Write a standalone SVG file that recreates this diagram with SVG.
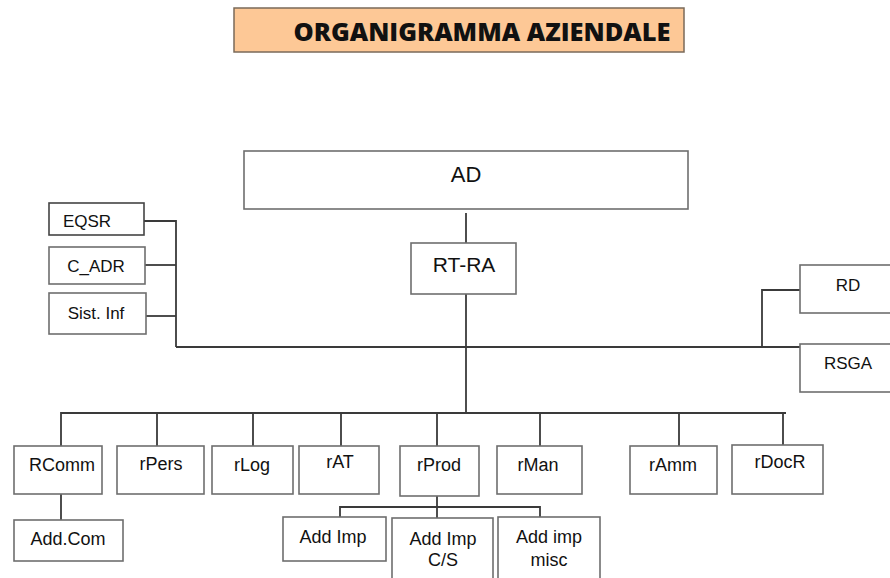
<svg xmlns="http://www.w3.org/2000/svg" width="890" height="578" viewBox="0 0 890 578">
<style>
.box{fill:#ffffff;stroke:#6e6e6e;stroke-width:1.6}
.lbl{font-family:"Liberation Sans",Arial,sans-serif;font-size:18px;fill:#111;text-anchor:middle}
.sm{font-size:17px}
.big{font-size:22px}
.mid{font-size:21px}
.con{stroke:#3a3a3a;stroke-width:1.8;fill:none}
</style>
<rect width="890" height="578" fill="#ffffff"/>
<g id="title">
<rect x="234" y="8" width="450" height="44" fill="#fdc896" stroke="#7a6a5a" stroke-width="1.5"/>
<text x="482" y="41" font-family="'Open Sans','Liberation Sans',sans-serif" font-weight="800" font-size="25" fill="#111" text-anchor="middle" textLength="377" lengthAdjust="spacingAndGlyphs">ORGANIGRAMMA AZIENDALE</text>
</g>
<g id="connectors">
<path class="con" d="M466 213V243"/>
<path class="con" d="M466 294V413"/>
<path class="con" d="M176 347H800"/>
<path class="con" d="M144 221H176V347"/>
<path class="con" d="M145 265H176"/>
<path class="con" d="M146 316H176"/>
<path class="con" d="M762 347V290H800"/>
<path class="con" d="M61 446V413H786"/>
<path class="con" d="M157 413V446M253 413V446M341 413V446M437 413V446M540 413V446M679 413V446M783 413V445"/>
<path class="con" d="M61 494V520"/>
<path class="con" d="M437 496V518"/>
<path class="con" d="M340 517V507H540V517"/>
</g>
<g id="AD"><rect class="box" x="244" y="151" width="444" height="58"/><text class="lbl big" x="466" y="182">AD</text></g>
<g id="RT-RA"><rect class="box" x="411" y="243" width="105" height="51"/><text class="lbl mid" x="464" y="272">RT-RA</text></g>
<g id="EQSR"><rect class="box" x="49" y="203" width="95" height="32" style="stroke:#444"/><text class="lbl sm" x="87" y="227">EQSR</text></g>
<g id="C_ADR"><rect class="box" x="49" y="247" width="96" height="37"/><text class="lbl sm" x="96" y="272">C_ADR</text></g>
<g id="SistInf"><rect class="box" x="49" y="293" width="97" height="41"/><text class="lbl sm" x="96" y="319">Sist. Inf</text></g>
<g id="RD"><rect class="box" x="800" y="265" width="95" height="48"/><text class="lbl sm" x="848" y="291">RD</text></g>
<g id="RSGA"><rect class="box" x="800" y="344" width="95" height="48"/><text class="lbl sm" x="848" y="369">RSGA</text></g>
<g id="RComm"><rect class="box" x="14" y="446" width="88" height="48"/><text class="lbl" x="62" y="471">RComm</text></g>
<g id="rPers"><rect class="box" x="117" y="446" width="87" height="48"/><text class="lbl" x="161" y="470">rPers</text></g>
<g id="rLog"><rect class="box" x="212" y="446" width="81" height="48"/><text class="lbl" x="252" y="471">rLog</text></g>
<g id="rAT"><rect class="box" x="299" y="446" width="80" height="48"/><text class="lbl" x="340" y="468">rAT</text></g>
<g id="rProd"><rect class="box" x="400" y="446" width="79" height="50"/><text class="lbl" x="439" y="471">rProd</text></g>
<g id="rMan"><rect class="box" x="497" y="446" width="85" height="48"/><text class="lbl" x="538" y="471">rMan</text></g>
<g id="rAmm"><rect class="box" x="630" y="446" width="87" height="48"/><text class="lbl" x="673" y="471">rAmm</text></g>
<g id="rDocR"><rect class="box" x="732" y="445" width="91" height="49"/><text class="lbl" x="780" y="468">rDocR</text></g>
<g id="AddCom"><rect class="box" x="14" y="520" width="109" height="41"/><text class="lbl" x="68" y="545">Add.Com</text></g>
<g id="AddImp"><rect class="box" x="283" y="517" width="103" height="44"/><text class="lbl" x="333" y="543">Add Imp</text></g>
<g id="AddImpCS"><rect class="box" x="392" y="518" width="101" height="70"/><text class="lbl" x="443" y="545">Add Imp</text><text class="lbl" x="443" y="566">C/S</text></g>
<g id="AddImpMisc"><rect class="box" x="498" y="517" width="102" height="71"/><text class="lbl" x="549" y="543">Add imp</text><text class="lbl" x="549" y="566">misc</text></g>
</svg>
